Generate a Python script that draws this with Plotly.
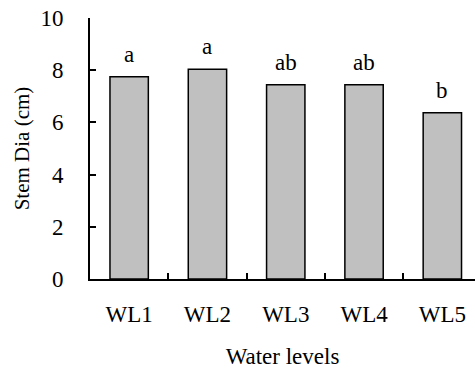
import plotly.graph_objects as go

categories = ["WL1", "WL2", "WL3", "WL4", "WL5"]
stem_dia = [7.75, 8.04, 7.44, 7.44, 6.37]
letters = ["a", "a", "ab", "ab", "b"]

FONT = "Liberation Serif"

fig = go.Figure()
fig.add_trace(go.Bar(
    x=categories, y=stem_dia, width=0.49,
    marker=dict(color="#c0c0c0", line=dict(color="black", width=1.5)),
    showlegend=False, hoverinfo="skip",
))
for c, v, t in zip(categories, stem_dia, letters):
    fig.add_annotation(x=c, y=v, text=t, showarrow=False, yanchor="bottom",
                       yshift=8, font=dict(family=FONT, size=23, color="black"))

fig.update_layout(
    width=475, height=378,
    margin=dict(l=90, r=0, t=18, b=99, autoexpand=False),
    paper_bgcolor="white", plot_bgcolor="white",
    font=dict(family=FONT, size=23, color="black"),
    bargap=0.5,
)
fig.update_xaxes(
    range=[-0.5, 4.417], tickson="boundaries", ticks="inside", ticklen=6,
    tickwidth=1.5, tickcolor="black", showline=True, linecolor="black", linewidth=2,
    showgrid=False, zeroline=False, automargin=False, ticklabelstandoff=13,
    title=dict(text="Water levels", font=dict(size=23), standoff=22),
)
fig.update_yaxes(
    range=[0, 10], tickvals=[0, 2, 4, 6, 8, 10], ticks="inside", ticklen=6,
    tickwidth=1.5, tickcolor="black", showline=True, linecolor="black", linewidth=2,
    showgrid=False, zeroline=False, automargin=False, ticklabelstandoff=20,
    title=dict(text="Stem Dia (cm)", font=dict(size=21), standoff=5),
)
fig.write_html("out.html", config={"displayModeBar": False},
               post_script="document.body.style.margin='0';")
